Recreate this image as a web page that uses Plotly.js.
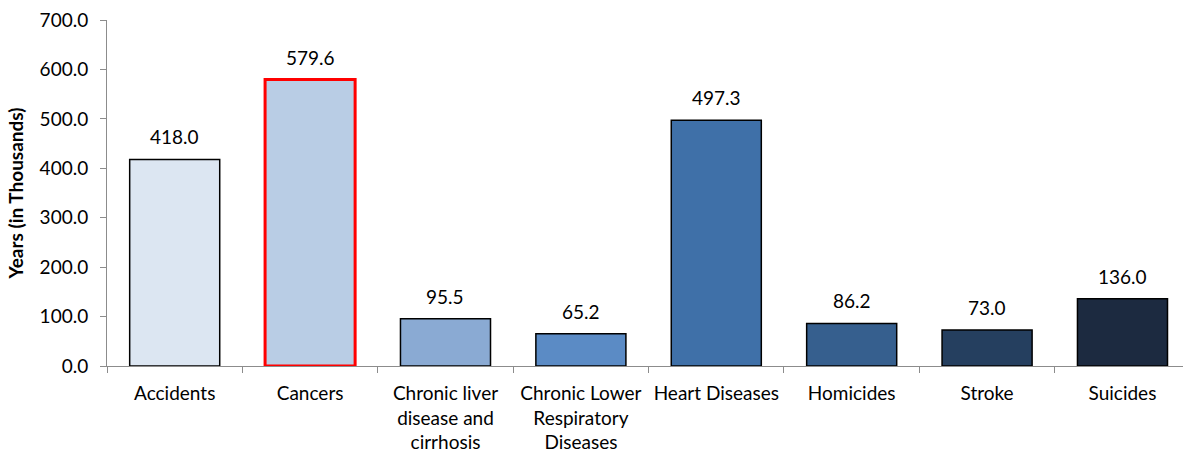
<!DOCTYPE html>
<html>
<head>
<meta charset="utf-8">
<script src="https://cdn.plot.ly/plotly-3.0.1.min.js"></script>
<style>
  html, body { margin: 0; padding: 0; background: #ffffff; }
  #chart { width: 1183px; height: 455px; }
</style>
</head>
<body>
<div id="chart"></div>
<script>
// Years of potential life lost, by cause (in thousands)
const categories = [
  "Accidents",
  "Cancers",
  "Chronic liver<br>disease and<br>cirrhosis",
  "Chronic Lower<br>Respiratory<br>Diseases",
  "Heart Diseases",
  "Homicides",
  "Stroke",
  "Suicides"
];
const years = [418.0, 579.6, 95.5, 65.2, 497.3, 86.2, 73.0, 136.0];
const valueLabels = ["418.0", "579.6", "95.5", "65.2", "497.3", "86.2", "73.0", "136.0"];
const yTickValues = [0, 100, 200, 300, 400, 500, 600, 700];
const yTickLabels = ["0.0", "100.0", "200.0", "300.0", "400.0", "500.0", "600.0", "700.0"];

// Styling: graduated blues, with the highlighted cause outlined in red
const fillColors = ["#DCE6F2", "#B9CDE5", "#8AAAD3", "#5B8BC5", "#3F70A8", "#365F8E", "#253F5F", "#1C2A40"];
const outlineColors = ["#000000", "#FF0000", "#000000", "#000000", "#000000", "#000000", "#000000", "#000000"];
const outlineWidths = [1.5, 3, 1.5, 1.5, 1.5, 1.5, 1.5, 1.5];

const FONT = "Lato, 'Open Sans', 'Liberation Sans', sans-serif";

const trace = {
  type: "bar",
  x: categories,
  y: years,
  marker: {
    color: fillColors,
    line: { color: outlineColors, width: outlineWidths }
  },
  hoverinfo: "x+y"
};

const annotations = categories.map((c, i) => ({
  x: c,
  y: years[i],
  xref: "x",
  yref: "y",
  text: valueLabels[i],
  showarrow: false,
  yanchor: "bottom",
  yshift: 9,
  font: { family: FONT, size: 19, color: "#000000" }
}));

const layout = {
  width: 1183,
  height: 455,
  margin: { l: 107, r: 0, t: 20, b: 89, pad: 0 },
  paper_bgcolor: "#ffffff",
  plot_bgcolor: "#ffffff",
  bargap: 0.335,
  showlegend: false,
  font: { family: FONT, size: 19, color: "#000000" },
  xaxis: {
    type: "category",
    range: [-0.5, 7.447],
    showgrid: false,
    zeroline: false,
    showline: true,
    linecolor: "#8C8C8C",
    linewidth: 1,
    ticks: "outside",
    tickson: "boundaries",
    ticklen: 6,
    tickcolor: "#8C8C8C",
    tickangle: 0,
    ticklabelstandoff: 10,
    tickfont: { family: FONT, size: 19, color: "#000000" }
  },
  yaxis: {
    range: [0, 700],
    tickvals: yTickValues,
    ticktext: yTickLabels,
    showgrid: false,
    zeroline: false,
    showline: true,
    linecolor: "#8C8C8C",
    linewidth: 1,
    ticks: "outside",
    ticklen: 6,
    tickcolor: "#8C8C8C",
    ticklabelstandoff: 8,
    tickfont: { family: FONT, size: 19, color: "#000000" },
    title: {
      text: "<b>Years (in Thousands)</b>",
      font: { family: FONT, size: 19, color: "#000000" },
      standoff: 10
    }
  },
  annotations: annotations
};

Plotly.newPlot("chart", [trace], layout, { staticPlot: true, displayModeBar: false });
</script>
</body>
</html>
